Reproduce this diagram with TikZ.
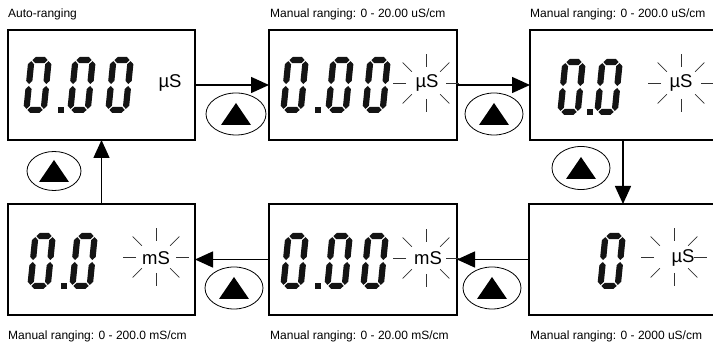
\documentclass[tikz,border=0pt]{standalone}
\usepackage{fontspec}
\setmainfont{Liberation Sans}
\usetikzlibrary{arrows.meta,shapes.geometric,calc}

\tikzset{
  lcd/.style={draw, line width=1.3pt, minimum width=#1, minimum height=110pt, inner sep=0pt, outer sep=0pt},
  lcd/.default=188pt,
  arr/.style={line width=1.5pt, -{Triangle[length=18pt,width=16pt]}},
  keybtn/.style={draw, ellipse, line width=0.8pt, inner sep=0pt},
  unit/.style={font=\fontsize{18.5}{20}\selectfont, inner sep=0pt},
  lbl/.style={font=\fontsize{12}{14}\selectfont, inner sep=0pt, anchor=base west},
  ray/.style={line width=0.65pt, black!80},
  seg/.style={fill=black!92},
}

\newcommand{\digitzero}[2]{%
\begin{scope}[shift={(#1,#2)},x={(1pt,0pt)},y={(0.1pt,1pt)}]
 \fill[seg] (4.1,52.9)--(7.2,56)--(16.3,56)--(19.4,52.9)--(16.3,49.8)--(7.2,49.8)--cycle;
 \fill[seg] (4.1,3.1)--(7.2,6.2)--(16.3,6.2)--(19.4,3.1)--(16.3,0)--(7.2,0)--cycle;
 \fill[seg] (3.1,29)--(6.2,32.1)--(6.2,48.8)--(3.1,51.9)--(0,48.8)--(0,32.1)--cycle;
 \fill[seg] (3.1,4.1)--(6.2,7.2)--(6.2,23.9)--(3.1,27)--(0,23.9)--(0,7.2)--cycle;
 \fill[seg] (20.4,29)--(23.5,32.1)--(23.5,48.8)--(20.4,51.9)--(17.3,48.8)--(17.3,32.1)--cycle;
 \fill[seg] (20.4,4.1)--(23.5,7.2)--(23.5,23.9)--(20.4,27)--(17.3,23.9)--(17.3,7.2)--cycle;
\end{scope}}
\newcommand{\lcddot}[2]{\fill[seg] (#1,#2) rectangle ({#1+5.5},{#2-6.2});}
\newcommand{\blink}[2]{\foreach \a in {0,45,...,315}{\draw[ray] ({#1+20*cos(\a)},{#2+16*sin(\a)}) -- ({#1+33*cos(\a)},{#2+29*sin(\a)});}}
\newcommand{\keytri}[1]{\fill ($(#1)+(0,-11)$) -- ($(#1)+(15,11)$) -- ($(#1)+(-15,11)$) -- cycle;}

\begin{document}
\begin{tikzpicture}[x=1pt,y=-1pt]
\useasboundingbox (0,0) rectangle (713,344);
\clip (0,0) rectangle (713,344);

% boxes
\node[lcd=187pt] (b1) at (101.5,85) {};
\node[lcd=188pt] (b2) at (363,85) {};
\node[lcd=186pt] (b3) at (623,85) {};
\node[lcd=187pt, minimum height=111pt] (b4) at (101.5,259.5) {};
\node[lcd=188pt, minimum height=111pt] (b5) at (363,259.5) {};
\node[lcd=188pt, minimum height=111pt] (b6) at (623,259.5) {};

% labels
\node[lbl] (l1) at (8,17.5) {Auto-ranging};
\node[lbl] (l2) at (270,17.5) {Manual ranging: 0 - 20.00 uS/cm};
\node[lbl] (l3) at (530,17.5) {Manual ranging: 0 - 200.0 uS/cm};
\node[lbl] (l4) at (8,340) {Manual ranging: 0 - 200.0 mS/cm};
\node[lbl] (l5) at (270,340) {Manual ranging: 0 - 20.00 mS/cm};
\node[lbl] (l6) at (530,340) {Manual ranging: 0 - 2000 uS/cm};

% digits box 1
\digitzero{23}{113}\lcddot{58}{113}\digitzero{67}{113}\digitzero{105}{113}
\node[unit] (u1) at (170,83) {µS};
% box 2
\digitzero{280}{113}\lcddot{315}{113}\digitzero{325}{113}\digitzero{362}{113}
\blink{426}{83}
\node[unit] (u2) at (427,83) {µS};
% box 3
\digitzero{557}{115}\lcddot{587}{115}\digitzero{594}{115}
\blink{681}{83}
\node[unit] (u3) at (681,83) {µS};
% box 4
\digitzero{27}{289}\lcddot{61}{289}\digitzero{69}{289}
\blink{156}{257}
\node[unit] (u4) at (156,258) {mS};
% box 5
\digitzero{280}{289}\lcddot{315}{289}\digitzero{324}{289}\digitzero{360}{289}
\blink{426}{258}
\node[unit] (u5) at (428,258) {mS};
% box 6
\digitzero{597}{289}
\blink{674}{257}
\node[unit] (u6) at (683,258) {µS};

% arrows
\draw[arr] (b1) -- (b2);
\draw[arr] (b2) -- (b3);
\draw[arr] (b3) -- (b6);
\draw[arr] (b6) -- (b5);
\draw[arr] (b5) -- (b4);
\draw[arr] (b4) -- (b1);

% keys
\node[keybtn, minimum width=60pt, minimum height=42pt] (k1) at (236,114) {};
\node[keybtn, minimum width=58pt, minimum height=42pt] (k2) at (494,114) {};
\node[keybtn, minimum width=58pt, minimum height=43pt] (k3) at (581,168) {};
\node[keybtn, minimum width=58pt, minimum height=42pt] (k4) at (492,288) {};
\node[keybtn, minimum width=58pt, minimum height=42pt] (k5) at (234,288) {};
\node[keybtn, minimum width=54pt, minimum height=39pt] (k6) at (54,171) {};
\keytri{k1}\keytri{k2}\keytri{k3}\keytri{k4}\keytri{k5}\keytri{k6}
\end{tikzpicture}
\end{document}
